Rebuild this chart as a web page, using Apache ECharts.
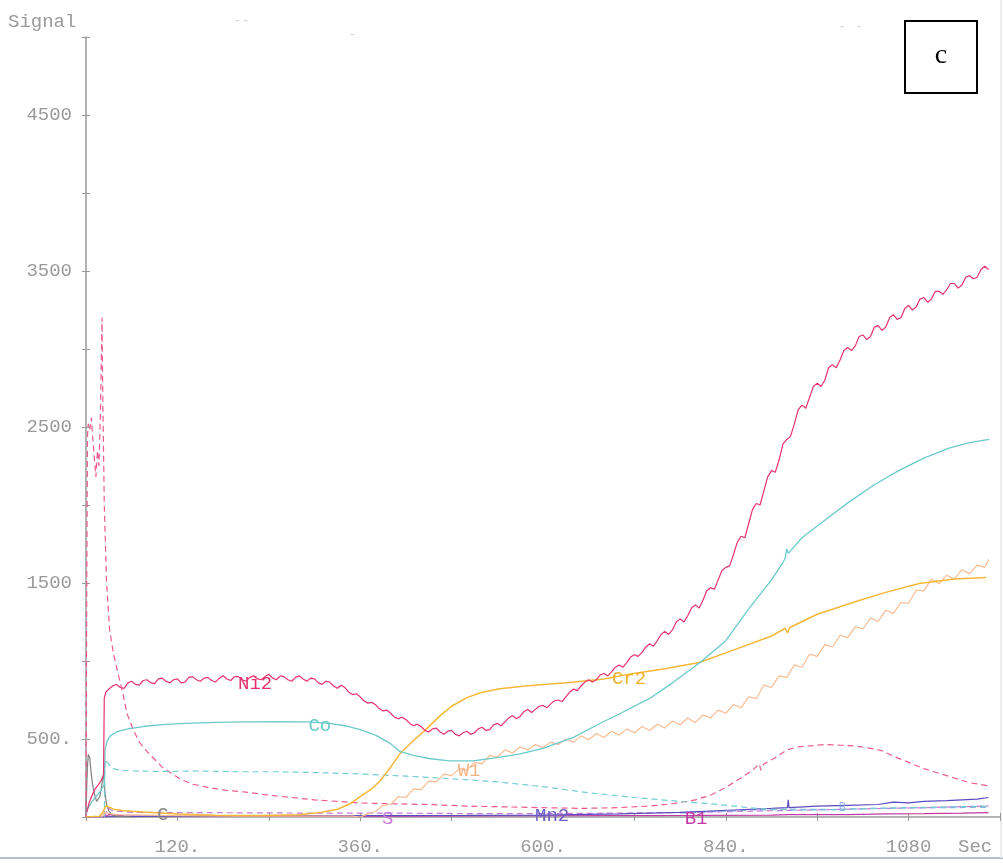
<!DOCTYPE html>
<html>
<head>
<meta charset="utf-8">
<script src="https://cdn.jsdelivr.net/npm/echarts@6/dist/echarts.min.js"></script>
<style>
html,body{margin:0;padding:0;background:#fff;}
#chart{width:1003px;height:863px;}
</style>
</head>
<body>
<div id="chart"></div>
<script>
// ---- axis ticks / labels ----
const xTickLabels = {120:'120.', 360:'360.', 600:'600.', 840:'840.', 1080:'1080'};
const yTickLabels = {500:'500.', 1500:'1500', 2500:'2500', 3500:'3500', 4500:'4500'};

// ---- series values: [time (s), signal] ----
const ni2 = [[1,30],[4,90],[8,140],[12,180],[16,205],[20,235],[23,270],[24,760],[26,800],
[30,820],[35,840],[40,850],[45,830],[50,825],[55,860],[60,870],[65,850],[70,845],[75,875],[80,880],[85,860],[90,855],[95,885],[100,890],[105,870],[110,860],[115,880],[120,885],[125,860],[130,865],[135,895],[140,900],[145,880],[150,870],[155,890],[160,895],[165,875],[170,865],[175,890],[180,905],[185,885],[190,875],[195,900],[200,900],[205,880],[210,870],[215,895],[220,905],[225,885],[230,880],[235,900],[240,915],[245,890],[250,880],[255,905],[260,900],[265,880],[270,870],[275,895],[280,905],[285,885],[290,870],[295,890],[300,885],[305,860],[310,850],[315,870],[320,865],[325,840],[330,825],[335,845],[340,830],[345,800],[350,785],[355,790],[360,770],[365,745],[370,730],[375,735],[380,720],[385,695],[390,680],[395,685],[400,665],[405,640],[410,630],[415,640],[420,625],[425,600],[430,585],[435,595],[440,580],[445,555],[450,545],[455,565],[460,570],[465,545],[470,530],[475,550],[480,555],[485,530],[490,520],[495,540],[500,550],[505,530],[510,540],[515,565],[520,575],[525,555],[530,560],[535,590],[540,600],[545,585],[550,610],[555,635],[560,650],[565,630],[570,645],[575,675],[580,690],[585,670],[590,690],[595,710],[600,715],[605,700],[610,725],[615,745],[620,750],[625,740],[630,770],[635,800],[640,820],[645,810],[650,840],[655,865],[660,880],[665,865],[670,880],[675,910],[680,920],[685,905],[690,930],[695,960],[700,975],[705,960],[710,990],[715,1025],[720,1040],[725,1030],[730,1055],[735,1090],[740,1110],[745,1095],[750,1130],[755,1170],[760,1190],[765,1170],[770,1200],[775,1250],[780,1270],[785,1250],[790,1290],[795,1340],[800,1360],[805,1340],[810,1390],[815,1450],[820,1470],[825,1460],[830,1520],[835,1580],[840,1600],[845,1610],[850,1680],[855,1760],[860,1800],[865,1790],[870,1880],[875,1970],[880,2010],[885,2000],[890,2090],[895,2180],[900,2220],[905,2210],[910,2290],[915,2390],[920,2420],[925,2440],[930,2520],[935,2610],[940,2640],[945,2620],[950,2690],[955,2760],[960,2780],[965,2760],[970,2800],[975,2880],[980,2900],[985,2880],[990,2930],[995,2990],[1000,3010],[1005,2990],[1010,3020],[1015,3080],[1020,3090],[1025,3060],[1030,3080],[1035,3140],[1040,3150],[1045,3120],[1050,3140],[1055,3200],[1060,3220],[1065,3190],[1070,3200],[1075,3260],[1080,3280],[1085,3250],[1090,3270],[1095,3320],[1100,3330],[1105,3300],[1110,3320],[1115,3370],[1120,3370],[1125,3350],[1130,3380],[1135,3420],[1140,3420],[1145,3390],[1150,3410],[1155,3460],[1160,3470],[1165,3450],[1170,3460],[1175,3510],[1180,3530],[1185,3510]];

const niDashed = [[0,0],[1,1500],[2,2450],[3,2520],[5,2480],[7,2560],[9,2420],[11,2300],[13,2180],[15,2350],[17,2250],[19,2600],[21,3200],[22,2700],[24,2000],[27,1500],[31,1200],[36,1050],[42,920],[48,800],[54,660],[62,560],[70,480],[80,420],[90,370],[100,320],[112,280],[125,240],[140,210],[160,190],[185,170],[210,160],[240,140],[270,125],[300,110],[330,100],[360,90],[400,85],[450,80],[500,70],[550,65],[600,60],[650,55],[700,60],[740,70],[770,85],[800,110],[820,140],[840,190],[860,250],[875,300],[884,340],[886,300],[890,340],[905,380],[920,430],[935,450],[950,455],[970,465],[990,460],[1010,455],[1030,440],[1045,425],[1060,390],[1080,350],[1100,310],[1120,280],[1140,250],[1160,220],[1185,200]];

const co = [[0,20],[3,60],[8,100],[13,130],[18,160],[22,190],[24,210],[25,430],[28,490],[32,520],[40,545],[55,565],[75,580],[100,592],[130,600],[170,606],[210,610],[250,612],[290,610],[320,600],[340,585],[360,560],[380,525],[400,470],[412,420],[430,395],[450,375],[477,360],[508,360],[540,380],[570,405],[600,440],[640,510],[674,598],[700,660],[740,760],[770,860],[805,985],[840,1130],[871,1340],[900,1520],[915,1630],[918,1660],[920,1720],[922,1690],[940,1790],[972,1910],[1002,2020],[1035,2130],[1067,2220],[1100,2300],[1133,2365],[1160,2400],[1186,2420]];

const coDashed = [[24,0],[25,370],[28,350],[35,310],[45,300],[60,295],[100,292],[150,295],[200,290],[250,290],[300,285],[360,276],[420,262],[480,245],[540,225],[600,195],[660,155],[720,125],[780,100],[830,80],[880,55],[930,45],[980,45],[1030,55],[1080,60],[1130,65],[1185,70]];

const cr2 = [[0,0],[18,5],[22,30],[26,70],[30,65],[36,50],[50,40],[80,30],[120,20],[170,12],[230,10],[280,15],[310,30],[330,50],[346,83],[360,130],[375,180],[386,231],[400,320],[412,405],[430,490],[447,565],[465,650],[480,710],[500,765],[520,800],[543,822],[580,842],[631,861],[680,885],[717,919],[760,950],[805,990],[850,1070],[900,1160],[918,1210],[921,1180],[924,1215],[960,1300],[1015,1388],[1050,1440],[1094,1497],[1140,1525],[1182,1536]];

const w1 = [[20,0],[25,30],[28,25],[40,15],[100,10],[200,5],[300,5],[350,5],[360,0],[370,20],[380,35],[390,75],[400,80],[410,130],[420,125],[430,180],[440,175],[450,230],[460,225],[470,275],[480,265],[490,310],[500,300],[510,350],[520,340],[530,395],[540,385],[550,430],[560,410],[570,450],[580,430],[590,465],[600,445],[610,480],[620,465],[630,500],[640,480],[650,520],[660,495],[670,535],[680,510],[690,550],[700,525],[710,565],[720,540],[730,580],[740,555],[750,595],[760,570],[770,615],[780,590],[790,635],[800,605],[810,655],[820,635],[830,685],[840,665],[850,720],[860,700],[870,770],[880,760],[890,845],[900,830],[910,905],[920,895],[930,975],[940,960],[950,1045],[960,1030],[970,1105],[980,1090],[990,1165],[1000,1150],[1010,1220],[1020,1205],[1030,1275],[1040,1255],[1050,1325],[1060,1305],[1070,1375],[1080,1370],[1090,1455],[1100,1450],[1110,1525],[1120,1495],[1130,1550],[1140,1525],[1150,1585],[1160,1560],[1170,1615],[1180,1600],[1185,1650]];

const carbon = [[0,0],[1,200],[2,330],[3,400],[4,405],[5,380],[6,320],[8,230],[10,170],[12,130],[14,100],[16,100],[18,130],[20,180],[22,250],[23,270],[24,230],[25,150],[27,80],[30,40],[34,15],[40,5],[60,0]];

const mn2 = [[0,0],[100,5],[300,8],[500,10],[600,12],[700,20],[780,30],[850,45],[900,55],[921,60],[922,110],[923,60],[960,70],[1000,75],[1040,80],[1060,95],[1080,90],[1100,100],[1130,105],[1150,110],[1170,115],[1185,125]];

const b1 = [[0,0],[24,0],[30,15],[50,8],[200,5],[400,5],[600,8],[800,10],[900,12],[921,15],[922,10],[950,15],[1000,15],[1050,20],[1100,22],[1150,25],[1185,28]];

const sDashed = [[25,0],[28,60],[35,40],[60,30],[150,28],[300,25],[400,25],[500,22],[600,22],[700,25],[800,30],[900,40],[1000,50],[1100,60],[1185,70]];

const blueDashed = [[780,25],[830,35],[880,45],[930,50],[980,48],[1030,55],[1080,58],[1130,60],[1185,62]];

// ---- chart ----
const MONO = '"Liberation Mono","DejaVu Sans Mono",monospace';
const GRAY = '#9a9a9a';

function tag(text, coord, color, size, dy) {
  return {
    symbol: 'rect', symbolSize: 1, silent: true,
    itemStyle: {color: 'transparent'},
    label: {show: true, position: 'inside', formatter: text, color: color,
            fontFamily: MONO, fontSize: size || 19, offset: [0, dy || 0]},
    data: [{coord: coord}]
  };
}

function line(name, data, color, opts) {
  opts = opts || {};
  const s = {
    name: name, type: 'line', data: data, showSymbol: false, symbol: 'none',
    animation: false, silent: true, z: opts.z || 2,
    lineStyle: {color: color, width: opts.width || 1.2, type: opts.dash ? [6, 4] : 'solid'}
  };
  if (opts.tag) s.markPoint = opts.tag;
  return s;
}

const chart = echarts.init(document.getElementById('chart'), null, {renderer: 'canvas'});
chart.setOption({
  backgroundColor: '#fff',
  animation: false,
  grid: {left: 86, right: 2, top: 37, bottom: 46},
  xAxis: [{
    type: 'value', min: 0, max: 1200, interval: 120,
    axisLine: {show: true, lineStyle: {color: GRAY, width: 1.5}},
    axisTick: {show: true, length: 4, lineStyle: {color: GRAY}},
    splitLine: {show: false},
    axisLabel: {margin: 20, color: GRAY, fontFamily: MONO, fontSize: 19,
      formatter: v => xTickLabels[v] || ''}
  }, {
    type: 'value', min: 0, max: 1200, interval: 120, position: 'bottom',
    axisLine: {show: false}, axisTick: {show: true, inside: true, length: 4, lineStyle: {color: GRAY}},
    axisLabel: {show: false}, splitLine: {show: false}
  }],
  yAxis: [{
    type: 'value', min: 0, max: 5000, interval: 500,
    axisLine: {show: true, lineStyle: {color: GRAY, width: 1.5}},
    axisTick: {show: true, length: 4, lineStyle: {color: GRAY}},
    splitLine: {show: false},
    axisLabel: {margin: 14, color: GRAY, fontFamily: MONO, fontSize: 19,
      formatter: v => yTickLabels[v] || ''}
  }, {
    type: 'value', min: 0, max: 5000, interval: 500, position: 'left',
    axisLine: {show: false}, axisTick: {show: true, inside: true, length: 4, lineStyle: {color: GRAY}},
    axisLabel: {show: false}, splitLine: {show: false}
  }],
  series: [
    line('S', sDashed, '#c67ad8', {dash: true, tag: tag('S', [396, 0], '#c67ad8', 19, 2)}),
    line('Fe', blueDashed, '#8fb0e6', {dash: true, tag: tag('B', [993, 60], '#8fb0e6', 12)}),
    line('B1', b1, '#c23aa6', {tag: tag('B1', [801, 0], '#c23aa6', 19, 2)}),
    line('Mn2', mn2, '#5a4cbf', {tag: tag('Mn2', [612, 0], '#6a5cc4', 19, -1)}),
    line('C', carbon, '#808080', {tag: tag('C', [101, 10], '#888888')}),
    line('NiD', niDashed, '#ec5c8c', {dash: true}),
    line('CoD', coDashed, '#72cdd0', {dash: true}),
    line('W1', w1, '#f8bc92', {tag: tag('W1', [503, 295], '#f6b480')}),
    line('Cr2', cr2, '#f4b738', {width: 1.5, tag: tag('Cr2', [713, 887], '#f0b030')}),
    line('Co', co, '#6ccacb', {width: 1.3, tag: tag('Co', [307, 585], '#6ccacb')}),
    line('Ni2', ni2, '#e6336b', {tag: tag('Ni2', [222, 855], '#e6336b')})
  ],
  graphic: [
    {type: 'text', left: 8, top: 12, style: {text: 'Signal', fill: GRAY, font: '19px ' + MONO}},
    {type: 'text', left: 958, top: 837, style: {text: 'Sec', fill: GRAY, font: '19px ' + MONO}},
    {type: 'text', left: 233, top: 14, style: {text: '--', fill: '#d8d8d8', font: '14px ' + MONO}},
    {type: 'text', left: 348, top: 28, style: {text: '-', fill: '#d8d8d8', font: '14px ' + MONO}},
    {type: 'text', left: 838, top: 20, style: {text: '- -', fill: '#d8d8d8', font: '14px ' + MONO}},
    {type: 'rect', shape: {x: 905, y: 21, width: 72, height: 72},
      style: {fill: '#fff', stroke: '#000', lineWidth: 2}, z: 10},
    {type: 'text', x: 941, y: 56, z: 11,
      style: {text: 'c', fill: '#000', font: '28px "Liberation Serif", serif', textAlign: 'center', textVerticalAlign: 'middle'}},
    {type: 'line', shape: {x1: 0, y1: 858, x2: 1003, y2: 858}, style: {stroke: '#b8bcc8', lineWidth: 2}},
    {type: 'line', shape: {x1: 1001, y1: 0, x2: 1001, y2: 858}, style: {stroke: '#ededed', lineWidth: 2}}
  ]
});
</script>
</body>
</html>
